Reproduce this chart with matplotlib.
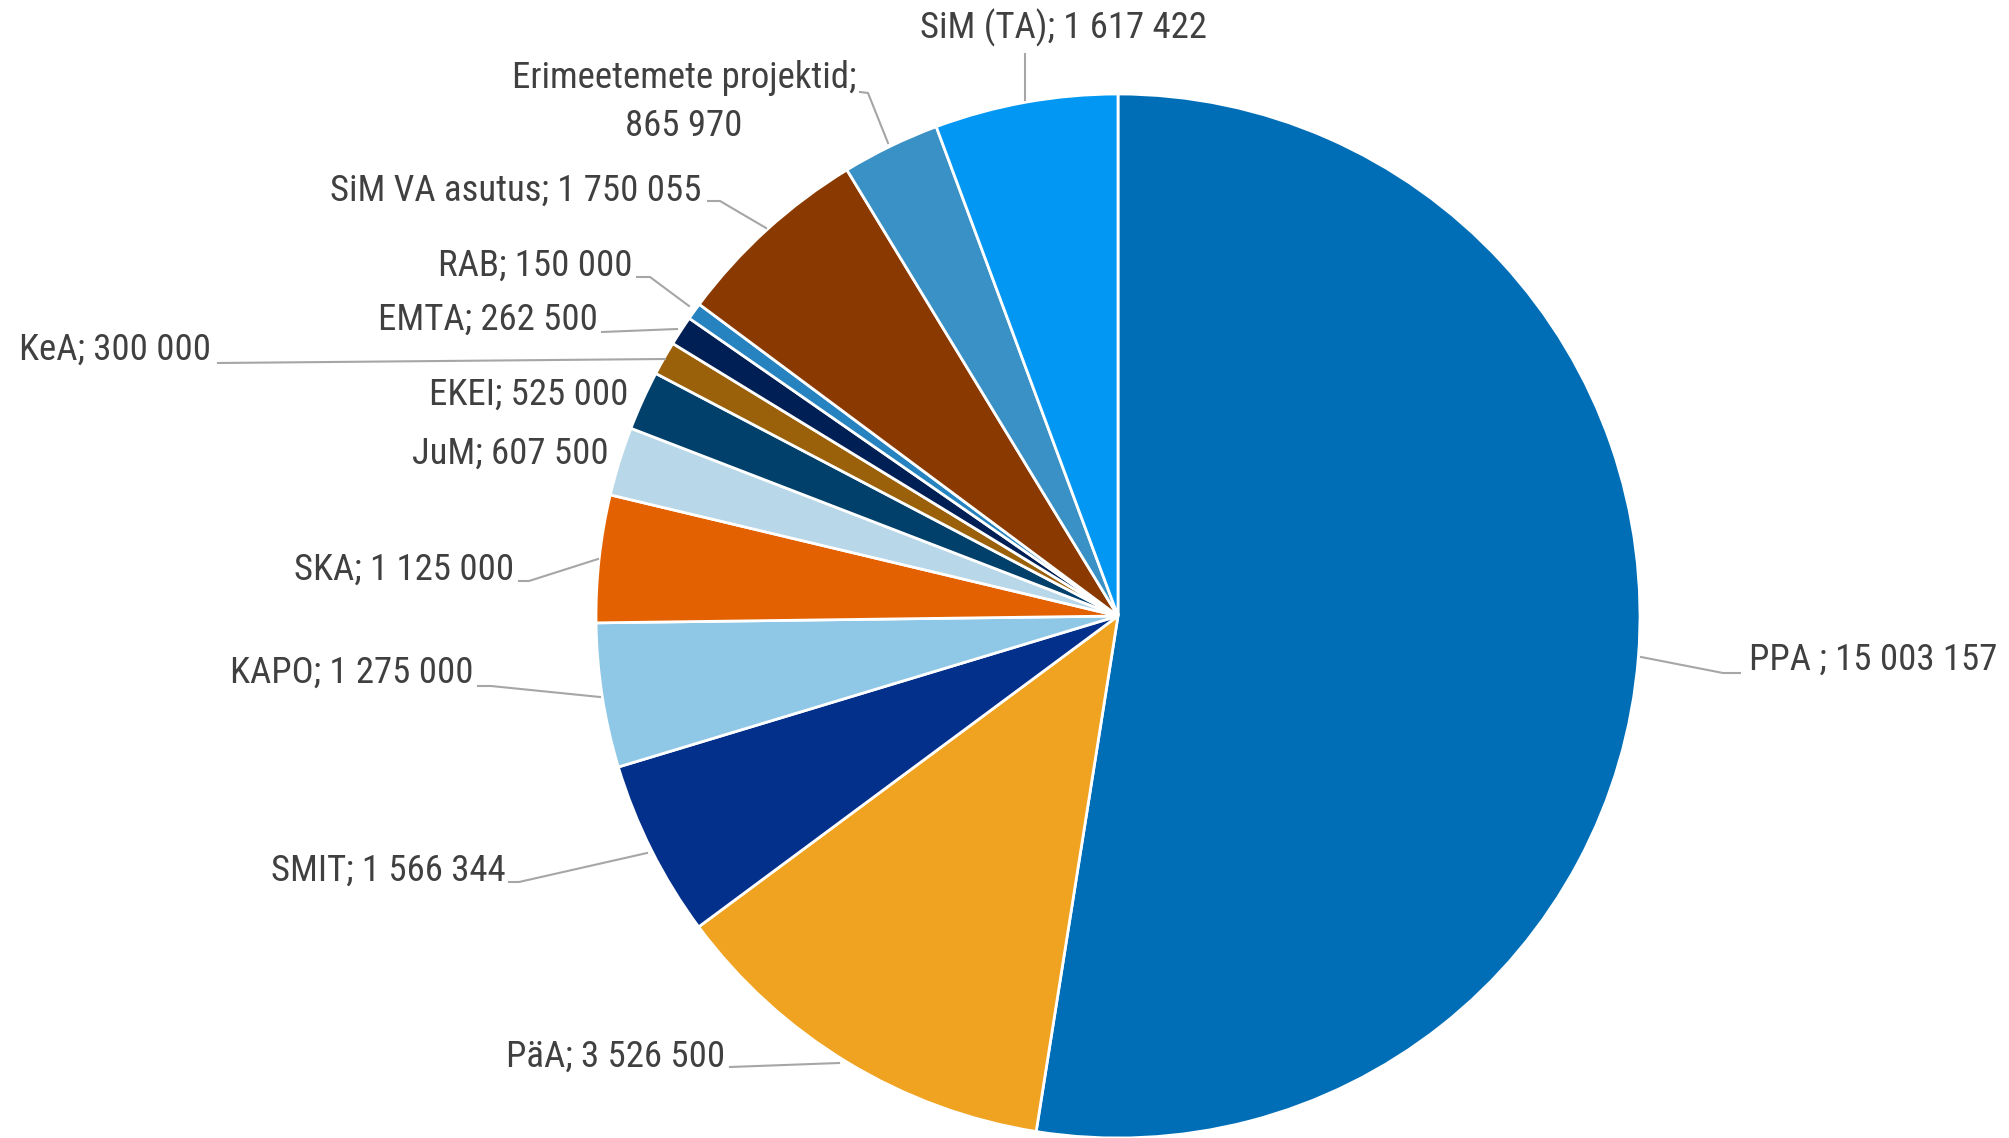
import matplotlib
matplotlib.use("Agg")
import matplotlib.pyplot as plt
from matplotlib import font_manager

# data (clockwise from 12 o'clock)
names = ["PPA ", "PäA", "SMIT", "KAPO", "SKA", "JuM", "EKEI", "KeA", "EMTA",
         "RAB", "SiM VA asutus", "Erimeetemete projektid", "SiM (TA)"]
values = [15003157, 3526500, 1566344, 1275000, 1125000, 607500, 525000,
          300000, 262500, 150000, 1750055, 865970, 1617422]
colors = ["#006EB6", "#EFA320", "#02308A", "#8FC7E6", "#E36100", "#B8D7E9",
          "#00406B", "#9A610A", "#001F54", "#2683BF", "#8A3A00", "#3A91C5",
          "#0397F4"]


def fmt(v):
    return f"{v:,}".replace(",", " ")


labels = [f"{n}; {fmt(v)}" for n, v in zip(names, values)]
labels[11] = f"{names[11]};\n{fmt(values[11])}"

# pick a narrow font if there is one
avail = {f.name for f in font_manager.fontManager.ttflist}
font = "Roboto"
for cand in ["Roboto Condensed", "Liberation Sans Narrow"]:
    if cand in avail:
        font = cand
        break
plt.rcParams["font.family"] = [font, "DejaVu Sans"]

W, H = 2009, 1138
fig = plt.figure(figsize=(W / 100, H / 100), dpi=100)
ax = fig.add_axes([0, 0, 1, 1])

cx, cy, r = 1118, H - 616, 522
ax.pie(values, colors=colors, startangle=90, counterclock=False,
       center=(cx, cy), radius=r, frame=True,
       wedgeprops=dict(edgecolor="white", linewidth=2))
ax.set_xlim(0, W)
ax.set_ylim(0, H)
ax.set_aspect("equal")
ax.axis("off")

# label anchor (x, y in pixels from top), alignment, leader line points
lab_pos = [
    (1749, 660, "left", [(1641, 657), (1723, 673), (1740, 673)]),
    (725, 1057, "right", [(730, 1067), (839, 1063)]),
    (506, 871, "right", [(509, 882), (519, 882), (647, 853)]),
    (473, 673, "right", [(478, 686), (491, 686), (600, 697)]),
    (514, 570, "right", [(519, 581), (529, 581), (598, 559)]),
    (609, 454, "right", None),
    (628, 395, "right", None),
    (211, 350, "right", [(218, 363), (665, 359)]),
    (598, 320, "right", [(602, 332), (677, 329)]),
    (633, 266, "right", [(637, 277), (650, 277), (689, 306)]),
    (702, 191, "right", [(708, 201), (720, 201), (766, 228)]),
    (684, 102, "center", [(860, 92), (868, 93), (888, 143)]),
    (1063, 28, "center", [(1025, 54), (1025, 100)]),
]

for lab, (x, y, ha, pts) in zip(labels, lab_pos):
    ax.text(x, H - y, lab, ha=ha, va="center", fontsize=26.5, color="#404040",
            linespacing=1.4)
    if pts:
        ax.plot([p[0] for p in pts], [H - p[1] for p in pts],
                color="#A6A6A6", lw=1.5)

fig.savefig("out.png", dpi=100)
